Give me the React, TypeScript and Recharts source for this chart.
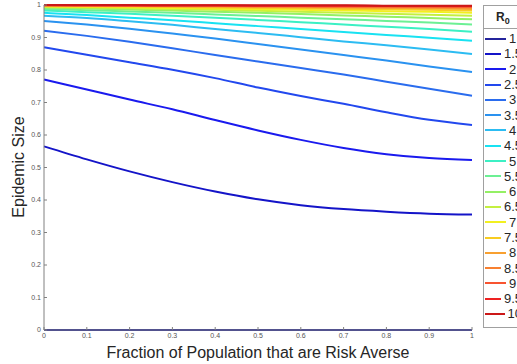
import React from 'react';
import { LineChart, Line, XAxis, YAxis } from 'recharts';

const X_VALUES = [0, 0.1, 0.2, 0.3, 0.4, 0.5, 0.6, 0.7, 0.8, 0.9, 1];
const X_TICKS = [0, 0.1, 0.2, 0.3, 0.4, 0.5, 0.6, 0.7, 0.8, 0.9, 1];
const Y_TICKS = [0, 0.1, 0.2, 0.3, 0.4, 0.5, 0.6, 0.7, 0.8, 0.9, 1];

const R0_LABELS = ['1', '1.5', '2', '2.5', '3', '3.5', '4', '4.5', '5', '5.5', '6', '6.5', '7', '7.5', '8', '8.5', '9', '9.5', '10'];

const COLORS = [
  '#24249c', '#1414c8', '#1a1aee', '#2248ee', '#2a6cee', '#2a92f0', '#2cbcf2', '#18e2f2',
  '#3cf0c4', '#6cf094', '#94f064', '#c4f040', '#f2f020', '#f8cc20', '#f8a030', '#f88030',
  '#f85430', '#ee2222', '#cc1818',
];

const S_1 = [0, 0, 0, 0, 0, 0, 0, 0, 0, 0, 0];
const S_1_5 = [0.565, 0.525, 0.488, 0.455, 0.426, 0.402, 0.384, 0.372, 0.364, 0.358, 0.355];
const S_2 = [0.771, 0.74, 0.709, 0.679, 0.646, 0.614, 0.585, 0.56, 0.541, 0.529, 0.523];
const S_2_5 = [0.87, 0.847, 0.824, 0.801, 0.775, 0.746, 0.72, 0.696, 0.67, 0.647, 0.631];
const S_3 = [0.921, 0.905, 0.887, 0.867, 0.846, 0.826, 0.806, 0.786, 0.764, 0.742, 0.721];
const S_3_5 = [0.951, 0.94, 0.927, 0.912, 0.897, 0.88, 0.863, 0.846, 0.829, 0.811, 0.794];
const S_4 = [0.967, 0.96, 0.95, 0.939, 0.926, 0.914, 0.901, 0.888, 0.876, 0.863, 0.849];
const S_4_5 = [0.976, 0.969, 0.961, 0.953, 0.944, 0.935, 0.926, 0.917, 0.908, 0.899, 0.89];
const S_5 = [0.983, 0.978, 0.973, 0.967, 0.961, 0.954, 0.947, 0.94, 0.933, 0.926, 0.918];
const S_5_5 = [0.988, 0.984, 0.98, 0.976, 0.971, 0.966, 0.961, 0.956, 0.951, 0.946, 0.94];
const S_6 = [0.992, 0.989, 0.986, 0.983, 0.979, 0.976, 0.972, 0.968, 0.964, 0.96, 0.956];
const S_6_5 = [0.994, 0.992, 0.99, 0.987, 0.985, 0.982, 0.979, 0.976, 0.973, 0.97, 0.967];
const S_7 = [0.996, 0.994, 0.993, 0.991, 0.989, 0.987, 0.985, 0.983, 0.981, 0.979, 0.976];
const S_7_5 = [0.997, 0.996, 0.995, 0.994, 0.992, 0.991, 0.99, 0.988, 0.987, 0.985, 0.983];
const S_8 = [0.998, 0.997, 0.997, 0.996, 0.995, 0.994, 0.993, 0.992, 0.991, 0.99, 0.988];
const S_8_5 = [0.999, 0.998, 0.998, 0.997, 0.997, 0.996, 0.995, 0.995, 0.994, 0.993, 0.992];
const S_9 = [0.999, 0.999, 0.998, 0.998, 0.998, 0.997, 0.997, 0.996, 0.996, 0.995, 0.995];
const S_9_5 = [1.0, 0.999, 0.999, 0.999, 0.999, 0.998, 0.998, 0.998, 0.997, 0.997, 0.997];
const S_10 = [1.0, 1.0, 1.0, 0.999, 0.999, 0.999, 0.999, 0.999, 0.998, 0.998, 0.998];

const SERIES = [S_1, S_1_5, S_2, S_2_5, S_3, S_3_5, S_4, S_4_5, S_5, S_5_5, S_6, S_6_5, S_7, S_7_5, S_8, S_8_5, S_9, S_9_5, S_10];

const data = X_VALUES.map((x, i) => {
  const row: Record<string, number> = { x };
  SERIES.forEach((s, k) => {
    row['r' + k] = s[i];
  });
  return row;
});

const FONT = '"Liberation Sans", Arial, Helvetica, sans-serif';
const AXIS_COLOR = '#808080';
const TEXT_COLOR = '#262626';

const fmt = (v: number) => String(Math.round(v * 10) / 10);

function Legend() {
  return (
    <div
      style={{
        position: 'absolute',
        left: 483,
        top: 5,
        width: 40,
        height: 323,
        border: '1px solid #a0a0a0',
        background: '#fff',
        fontFamily: FONT,
        boxSizing: 'border-box',
      }}
    >
      <div
        style={{
          height: 22,
          borderBottom: '1px solid #a0a0a0',
          textAlign: 'left',
          paddingLeft: 12,
          fontWeight: 'bold',
          fontSize: 12,
          lineHeight: '22px',
          color: TEXT_COLOR,
        }}
      >
        R<sub style={{ fontSize: 9 }}>0</sub>
      </div>
      <div style={{ paddingTop: 2 }}>
        {R0_LABELS.map((lab, i) => (
          <div key={lab} style={{ height: 15.3, display: 'flex', alignItems: 'center' }}>
            <div style={{ marginLeft: 1, width: 21, height: 2, background: COLORS[i] }} />
            <div style={{ marginLeft: 3, fontSize: 13, color: TEXT_COLOR, whiteSpace: 'nowrap' }}>{lab}</div>
          </div>
        ))}
      </div>
    </div>
  );
}

export default function App() {
  return (
    <div style={{ position: 'absolute', left: 0, top: 0, width: 517, height: 364, overflow: 'hidden', background: '#fff' }}>
      <LineChart width={517} height={364} data={data} margin={{ top: 5, right: 45, bottom: 0, left: 0 }}>
        <XAxis
          dataKey="x"
          type="number"
          domain={[0, 1]}
          ticks={X_TICKS}
          tickFormatter={fmt}
          height={34}
          stroke={AXIS_COLOR}
          tickSize={-3}
          tickMargin={6}
          tick={{ fontSize: 7, fill: '#555', fontFamily: FONT }}
          label={{
            content: () => (
              <text x={258} y={358} textAnchor="middle" fontSize={16} fill={TEXT_COLOR} fontFamily={FONT}>
                Fraction of Population that are Risk Averse
              </text>
            ),
          }}
        />
        <YAxis
          type="number"
          domain={[0, 1]}
          ticks={Y_TICKS}
          tickFormatter={fmt}
          width={44}
          stroke={AXIS_COLOR}
          tickSize={-3}
          tickMargin={6}
          tick={{ fontSize: 7, fill: '#555', fontFamily: FONT }}
          label={{
            content: () => (
              <text
                x={0}
                y={0}
                transform="translate(24 167) rotate(-90)"
                textAnchor="middle"
                fontSize={16}
                fill={TEXT_COLOR}
                fontFamily={FONT}
              >
                Epidemic Size
              </text>
            ),
          }}
        />
        {SERIES.map((_, k) => (
          <Line
            key={k}
            type="monotone"
            dataKey={'r' + k}
            stroke={COLORS[k]}
            strokeWidth={2}
            dot={false}
            isAnimationActive={false}
          />
        ))}
      </LineChart>
      <Legend />
    </div>
  );
}
